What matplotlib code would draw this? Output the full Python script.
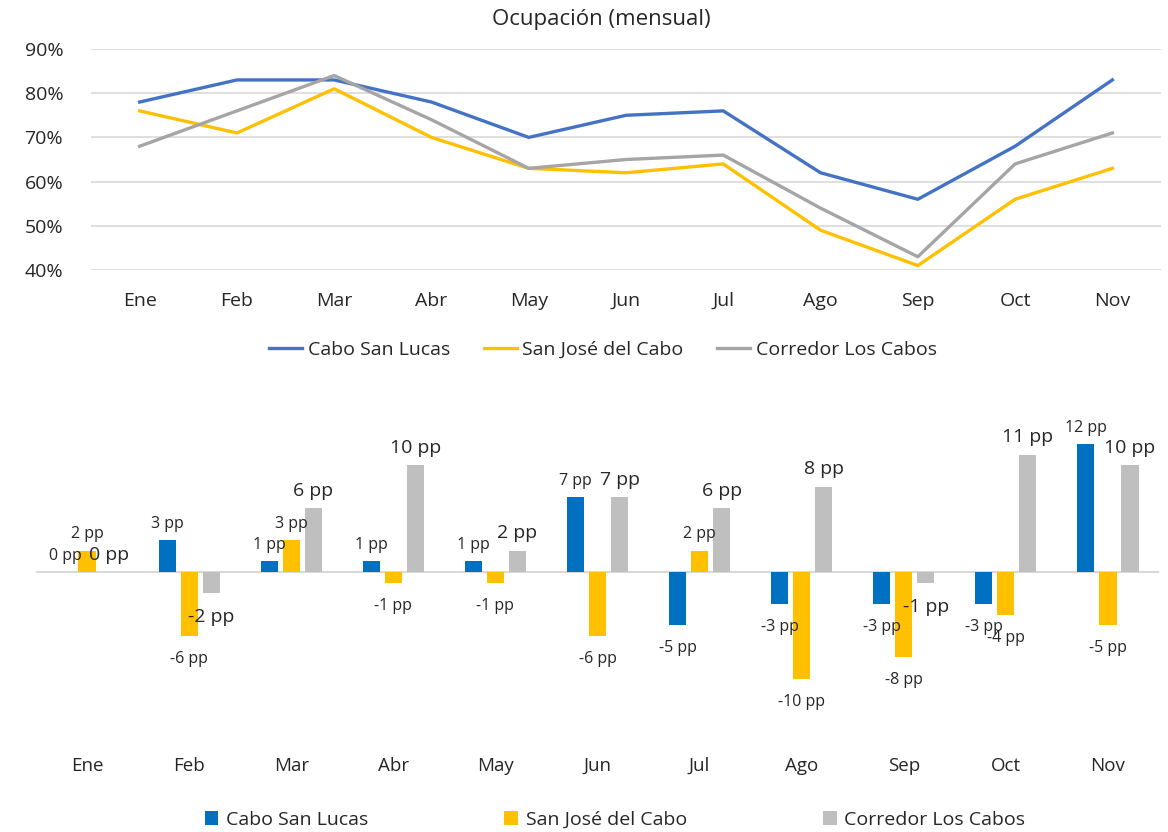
import matplotlib
matplotlib.use("Agg")
import matplotlib.pyplot as plt
import numpy as np

months = ["Ene", "Feb", "Mar", "Abr", "May", "Jun", "Jul", "Ago", "Sep", "Oct", "Nov"]
series_names = ["Cabo San Lucas", "San José del Cabo", "Corredor Los Cabos"]

occ_csl = [78, 83, 83, 78, 70, 75, 76, 62, 56, 68, 83]
occ_sjc = [76, 71, 81, 70, 63, 62, 64, 49, 41, 56, 63]
occ_cor = [68, 76, 84, 74, 63, 65, 66, 54, 43, 64, 71]

diff_csl = [0, 3, 1, 1, 1, 7, -5, -3, -3, -3, 12]
diff_sjc = [2, -6, 3, -1, -1, -6, 2, -10, -8, -4, -5]
diff_cor = [0, -2, 6, 10, 2, 7, 6, 8, -1, 11, 10]

yticks_top = [40, 50, 60, 70, 80, 90]

plt.rcParams['font.family'] = ['Open Sans', 'DejaVu Sans']

W, H = 1168, 832
fig = plt.figure(figsize=(W / 100, H / 100), dpi=100)

def ax_rect(l, t, r, b):
    return [l / W, 1 - b / H, (r - l) / W, (b - t) / H]

# ---------- Top line chart ----------
ax1 = fig.add_axes(ax_rect(91, 49, 1161, 270))
x = np.arange(len(months))
line_colors = ["#4472C4", "#FFC000", "#A5A5A5"]
for vals, c, n in zip([occ_csl, occ_sjc, occ_cor], line_colors, series_names):
    ax1.plot(x, np.array(vals) / 100, color=c, lw=2.4, label=n, solid_joinstyle='round')
ax1.set_xlim(-0.5, len(months) - 0.5)
ax1.set_ylim(0.40, 0.90)
ax1.set_yticks([v / 100 for v in yticks_top])
ax1.set_yticklabels([f"{v}%" for v in yticks_top])
ax1.set_xticks(x)
ax1.set_xticklabels(months)
ax1.grid(axis='y', color='#D9D9D9', lw=1.2)
ax1.set_axisbelow(True)
for s in ax1.spines.values():
    s.set_visible(False)
ax1.tick_params(axis='both', length=0, labelsize=14, colors='#262626')
ax1.tick_params(axis='x', pad=16)
ax1.tick_params(axis='y', pad=20)
fig.text(601 / W, 1 - 20 / H, "Ocupación (mensual)", ha='center', va='center',
         fontsize=16, color='#262626')
leg1 = fig.legend(loc='center', bbox_to_anchor=(603 / W, 1 - 350 / H), ncol=3,
                  frameon=False, fontsize=14, handlelength=1.7, columnspacing=1.7,
                  handletextpad=0.3)
for t in leg1.get_texts():
    t.set_color('#262626')

# ---------- Bottom bar chart ----------
ax2 = fig.add_axes(ax_rect(36, 430, 1159, 740))
bar_colors = ["#0070C0", "#FFC000", "#BFBFBF"]
bw = 0.168
step = 0.216
label_sizes = [11.5, 11.5, 14]
for i, (vals, c, n, fs) in enumerate(zip([diff_csl, diff_sjc, diff_cor], bar_colors,
                                          series_names, label_sizes)):
    pos = x + (i - 1) * step
    ax2.bar(pos, vals, width=bw, color=c, label=n, zorder=2)
    for p, v in zip(pos, vals):
        if v >= 0:
            ax2.annotate(f"{v} pp", (p, v), xytext=(0, 6), textcoords='offset points',
                         ha='center', va='bottom', fontsize=fs, color='#262626')
        else:
            ax2.annotate(f"{v} pp", (p, v), xytext=(0, -11), textcoords='offset points',
                         ha='center', va='top', fontsize=fs, color='#262626')
ax2.axhline(0, color='#D9D9D9', lw=1.5, zorder=1)
ax2.set_xlim(-0.5, len(months) - 0.5)
ax2.set_ylim(-15.76, 13.3)
ax2.set_yticks([])
ax2.set_xticks([])
for s in ax2.spines.values():
    s.set_visible(False)
month_y = -(766 - 740) / (740 - 430)
for xi, m in zip(x, months):
    ax2.text(xi, month_y, m, transform=ax2.get_xaxis_transform(), ha='center', va='center',
             fontsize=13.5, color='#262626')

leg2 = fig.legend(handles=[c.patches[0] for c in ax2.containers],
                  labels=series_names, loc='center', bbox_to_anchor=(615 / W, 1 - 820 / H),
                  ncol=3, frameon=False, fontsize=14, handlelength=0.7, handleheight=0.7,
                  columnspacing=7.0, handletextpad=0.4)
for t in leg2.get_texts():
    t.set_color('#262626')

fig.savefig("out.png", dpi=100, facecolor='white')
